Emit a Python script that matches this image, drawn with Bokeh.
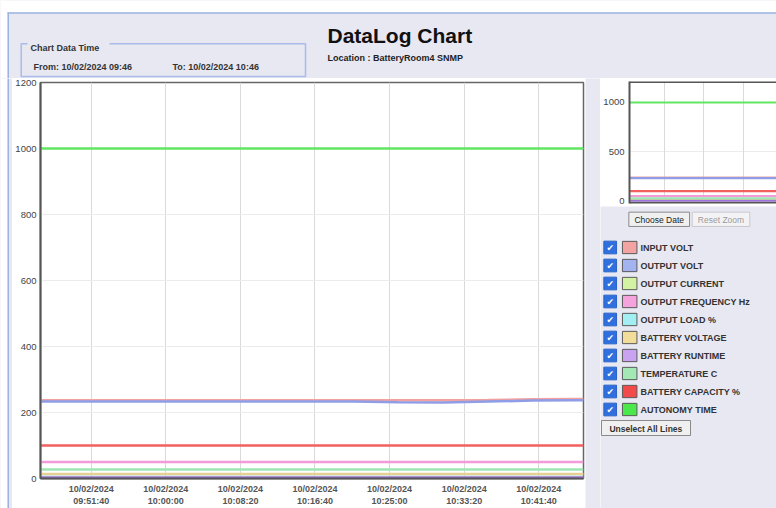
from datetime import datetime, timezone
from bokeh.plotting import figure
from bokeh.layouts import row, column
from bokeh.models import FixedTicker, Range1d, Span, Grid
from bokeh.embed import file_html
from bokeh.resources import INLINE
from bokeh.core.properties import value

# ---------------- data ----------------
DAY = "10/02/2024"
times = ["09:46:00", "09:51:00", "09:56:00", "10:01:00", "10:06:00", "10:11:00", "10:16:00",
         "10:21:00", "10:26:00", "10:31:00", "10:36:00", "10:41:00", "10:46:00", "10:46:40"]

series_names = ["INPUT VOLT", "OUTPUT VOLT", "OUTPUT CURRENT", "OUTPUT FREQUENCY Hz", "OUTPUT LOAD %",
                "BATTERY VOLTAGE", "BATTERY RUNTIME", "TEMPERATURE C", "BATTERY CAPACITY %", "AUTONOMY TIME"]
swatch_colors = ["#f4a3a3", "#a3b3f0", "#d4f2a3", "#f5a3dc", "#a3eef2",
                 "#f2dc9a", "#c9a3f2", "#a3e8b5", "#f24a4a", "#4ae84a"]
line_colors = ["#f2a0a0", "#8e9de6", "#cdeea0", "#f29bd8", "#9ee9ee",
               "#e8cf94", "#9d72db", "#9fe6b2", "#f26060", "#62e662"]

input_volt = [237, 237, 237, 237, 237, 237, 237, 237, 237, 237, 238, 240, 241, 241]
output_volt = [233, 233, 233, 233, 233, 233, 233, 233, 231, 230, 233, 236, 237, 237]
output_current = [2, 2, 2, 2, 2, 2, 2, 2, 2, 2, 2, 2, 2, 2]
output_frequency = [50, 50, 50, 50, 50, 50, 50, 50, 50, 50, 50, 50, 50, 50]
output_load = [13, 13, 13, 13, 13, 13, 13, 13, 13, 13, 13, 13, 13, 13]
battery_voltage = [14, 14, 14, 14, 14, 14, 14, 14, 14, 14, 14, 14, 14, 14]
battery_runtime = [3, 3, 3, 3, 3, 3, 3, 3, 3, 3, 3, 3, 3, 3]
temperature = [27, 27, 27, 27, 27, 27, 27, 27, 27, 27, 27, 27, 27, 27]
battery_capacity = [100, 100, 100, 100, 100, 100, 100, 100, 100, 100, 100, 100, 100, 100]
autonomy_time = [1000, 1000, 1000, 1000, 1000, 1000, 1000, 1000, 1000, 1000, 1000, 1000, 1000, 1000]
series_values = [input_volt, output_volt, output_current, output_frequency, output_load,
                 battery_voltage, battery_runtime, temperature, battery_capacity, autonomy_time]

main_ticks = ["09:51:40", "10:00:00", "10:08:20", "10:16:40", "10:25:00", "10:33:20", "10:41:40"]
main_tick_labels = [DAY + "\n" + t for t in main_ticks]
main_y_ticks = [0, 200, 400, 600, 800, 1000, 1200]
overview_x_ticks = ["09:53:20", "10:01:40", "10:10:00"]
overview_y_ticks = [0, 500, 1000]
x_start, x_end = "09:46:00", "10:46:40"
overview_x_end = "10:17:02"

title_text = "DataLog Chart"
location_text = "Location : BatteryRoom4 SNMP"
from_text = "From:  10/02/2024 09:46"
to_text = "To:  10/02/2024 10:46"

LAV = "#e8e8f2"
BLUE_BORDER = "#9db3e2"
FONT = "Liberation Sans"


def ms(hms):
    h, m, s = map(int, hms.split(":"))
    return int(datetime(2024, 10, 2, h, m, s, tzinfo=timezone.utc).timestamp() * 1000)


xs = [ms(t) for t in times]


def deco_fig(w, h, bg):
    f = figure(width=w, height=h, x_range=Range1d(0, w), y_range=Range1d(h, 0),
               toolbar_location=None, output_backend="svg", min_border=0,
               x_axis_location=None, y_axis_location=None, frame_align=False)
    f.min_border_left = f.min_border_right = f.min_border_top = f.min_border_bottom = 0
    f.background_fill_color = bg
    f.border_fill_color = bg
    f.outline_line_color = None
    f.grid.visible = False
    return f


def txt(f, x, y, s, size="9px", style="bold", color="#333333", align="left", baseline="alphabetic", font=FONT):
    f.text(x=[x], y=[y], text=[s], text_font=value(font), text_font_size=size,
           text_font_style=style, text_color=color, text_align=align, text_baseline=baseline)


# ---------------- header ----------------
hdr = deco_fig(776, 78, LAV)
hdr.quad(left=[0], right=[776], top=[0], bottom=[12], fill_color="white", line_color=None)
hdr.quad(left=[0], right=[7], top=[0], bottom=[78], fill_color="white", line_color=None)
hdr.segment(x0=[7], y0=[12.5], x1=[776], y1=[12.5], line_color=BLUE_BORDER, line_width=1.5)
hdr.segment(x0=[7.75], y0=[12], x1=[7.75], y1=[78], line_color=BLUE_BORDER, line_width=1.5)
# fieldset
hdr.quad(left=[20.7], right=[305], top=[43.3], bottom=[76], fill_color=None,
         line_color="#a9bbe8", line_width=1.5)
hdr.quad(left=[27], right=[109], top=[38], bottom=[49], fill_color=LAV, line_color=None)
txt(hdr, 30, 47.7, "Chart Data Time")
txt(hdr, 33, 66, from_text)
txt(hdr, 172, 66, to_text)
txt(hdr, 327, 35, title_text, size="21px", color="#111111")
txt(hdr, 327, 57, location_text, color="#222222")

# ---------------- left border strip & gap ----------------
strip = deco_fig(12, 430, LAV)
strip.quad(left=[0], right=[7], top=[0], bottom=[430], fill_color="white", line_color=None)
strip.quad(left=[7], right=[8.5], top=[0], bottom=[430], fill_color=BLUE_BORDER, line_color=None)
gap = deco_fig(15, 430, LAV)

# ---------------- main chart ----------------
main = figure(width=573, height=430, x_axis_type="datetime",
              x_range=Range1d(ms(x_start), ms(x_end)), y_range=Range1d(0, 1200),
              toolbar_location=None, output_backend="svg", frame_align=False,
              min_border_left=28, min_border_right=2, min_border_top=4, min_border_bottom=28)
main.background_fill_color = "white"
main.border_fill_color = "white"
main.outline_line_color = "#666666"
main.outline_line_width = 1.5

for vals, col in zip(series_values, line_colors):
    main.line(xs, vals, line_color=col, line_width=2.5)

main.xaxis.ticker = FixedTicker(ticks=[ms(t) for t in main_ticks], minor_ticks=[])
main.xaxis.major_label_overrides = {ms(t): lab for t, lab in zip(main_ticks, main_tick_labels)}
main.yaxis.ticker = FixedTicker(ticks=main_y_ticks, minor_ticks=[])
for ax in (main.xaxis, main.yaxis):
    ax.axis_line_color = "#555555"
    ax.axis_line_width = 2
    ax.major_tick_line_color = None
    ax.minor_tick_line_color = None
    ax.major_tick_out = 0
    ax.major_tick_in = 0
    ax.major_label_text_font = FONT
main.xaxis.major_label_text_font_size = "9px"
main.xaxis.major_label_text_font_style = "bold"
main.xaxis.major_label_text_color = "#555555"
main.xaxis.major_label_standoff = 5
main.yaxis.major_label_text_font_size = "9.5px"
main.yaxis.major_label_text_color = "#444444"
main.yaxis.major_label_standoff = 4
main.xgrid.grid_line_color = "#dadada"
main.ygrid.grid_line_color = "#ececec"
main.xgrid.grid_line_width = 1
main.ygrid.grid_line_width = 1

# ---------------- overview chart ----------------
ov = figure(width=176, height=128, x_axis_type="datetime",
            x_range=Range1d(ms(x_start), ms(overview_x_end)), y_range=Range1d(-25, 1213),
            toolbar_location=None, output_backend="svg", x_axis_location=None, frame_align=False,
            min_border_left=27, min_border_right=0, min_border_top=3, min_border_bottom=3)
ov.background_fill_color = "white"
ov.border_fill_color = "white"
ov.outline_line_color = None
ov.xgrid.visible = False
ov.add_layout(Grid(dimension=0, ticker=FixedTicker(ticks=[ms(t) for t in overview_x_ticks]),
                   grid_line_color="#dadada"))
ov.yaxis.ticker = FixedTicker(ticks=overview_y_ticks, minor_ticks=[])
ov.yaxis.axis_line_color = "#555555"
ov.yaxis.axis_line_width = 2
ov.yaxis.major_tick_line_color = None
ov.yaxis.minor_tick_line_color = None
ov.yaxis.major_tick_out = 0
ov.yaxis.major_label_text_font = FONT
ov.yaxis.major_label_text_font_size = "9.5px"
ov.yaxis.major_label_text_color = "#444444"
ov.yaxis.major_label_standoff = 5
ov.ygrid.grid_line_color = "#ececec"
for vals, col in zip(series_values, line_colors):
    ov.line(xs, vals, line_color=col, line_width=2.2)
ov.add_layout(Span(location=1213, dimension="width", line_color="#555555", line_width=3))
ov.add_layout(Span(location=-25, dimension="width", line_color="#555555", line_width=3))

# ---------------- legend / controls ----------------
leg = deco_fig(176, 302, LAV)
leg.rect(x=[58.7], y=[12.8], width=[60.7], height=[14.3], fill_color="#f0f0f0", line_color="#8a8a8a")
txt(leg, 58.7, 13, "Choose Date", size="8.5px", style="normal", color="#222222", align="center", baseline="middle")
leg.rect(x=[120.5], y=[12.8], width=[57.6], height=[14.3], fill_color="#f3f3f6", line_color="#c8c8cc")
txt(leg, 120.5, 13, "Reset Zoom", size="8.5px", style="normal", color="#9a9a9a", align="center", baseline="middle")

row_y = [41 + 18 * i for i in range(len(series_names))]
leg.rect(x=[9.7] * len(row_y), y=row_y, width=12.7, height=12.7, fill_color="#2f6fde", line_color="#2a62c8")
leg.text(x=[9.7] * len(row_y), y=[yy + 0.5 for yy in row_y], text=["\u2714"] * len(row_y),
         text_font=value("DejaVu Sans"), text_font_size="9px", text_color="white",
         text_align="center", text_baseline="middle")
leg.rect(x=[29.2] * len(row_y), y=row_y, width=14.5, height=12.3, fill_color=swatch_colors,
         line_color="#5a5a5a", line_width=1)
leg.text(x=[40] * len(row_y), y=row_y, text=series_names, text_font=value(FONT),
         text_font_size="9px", text_font_style="bold", text_color="#333333",
         text_align="left", text_baseline="middle")

leg.rect(x=[45.5], y=[221.5], width=[89], height=[15], fill_color="#f0f0f0", line_color="#8a8a8a")
txt(leg, 45.5, 222, "Unselect All Lines", size="8.5px", color="#333333", align="center", baseline="middle")

layout = column(hdr, row(strip, main, gap, column(ov, leg)))

open("out.html", "w").write(file_html(layout, INLINE))
